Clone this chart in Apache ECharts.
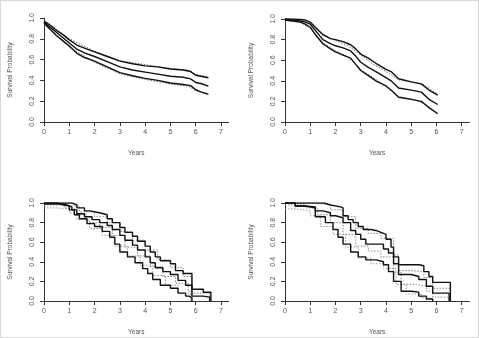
<!DOCTYPE html>
<html>
<head>
<meta charset="utf-8">
<script src="https://cdn.jsdelivr.net/npm/echarts@6/dist/echarts.min.js"></script>
<style>
  html, body { margin: 0; padding: 0; background: #fff; }
  #chart { width: 479px; height: 338px; box-sizing: border-box; border: 1px solid #d8d8d8; }
</style>
</head>
<body>
<div id="chart"></div>
<script>
// tick labels
var xTicks = [0, 1, 2, 3, 4, 5, 6, 7];

// panel 1 (top left)
var p1Time = [0, 0.25, 0.5, 0.75, 1, 1.3, 1.6, 2, 2.5, 3, 3.5, 4, 4.5, 5, 5.5, 5.8, 6, 6.2, 6.5];
var p1Upper = [0.97, 0.93, 0.88, 0.84, 0.79, 0.74, 0.71, 0.675, 0.63, 0.585, 0.56, 0.54, 0.53, 0.51, 0.50, 0.485, 0.45, 0.44, 0.425];
var p1Mid = [0.96, 0.91, 0.86, 0.81, 0.76, 0.70, 0.665, 0.63, 0.58, 0.53, 0.50, 0.48, 0.46, 0.44, 0.43, 0.415, 0.38, 0.37, 0.345];
var p1Lower = [0.95, 0.89, 0.83, 0.78, 0.73, 0.66, 0.62, 0.585, 0.53, 0.475, 0.445, 0.42, 0.40, 0.375, 0.36, 0.35, 0.31, 0.29, 0.265];
var p1DotTime = [0, 1, 2, 3, 4, 5, 5.7, 6, 6.5];
var p1DotUpper = [0.98, 0.80, 0.68, 0.59, 0.55, 0.515, 0.50, 0.46, 0.43];
var p1DotLower = [0.945, 0.72, 0.575, 0.465, 0.41, 0.365, 0.345, 0.30, 0.275];

// panel 2 (top right)
var p2Time = [0, 0.3, 0.6, 0.8, 1, 1.2, 1.5, 1.8, 2, 2.3, 2.6, 2.8, 3, 3.3, 3.6, 4, 4.2, 4.5, 5, 5.4, 5.7, 6.05];
var p2Upper = [1.0, 1.0, 0.995, 0.99, 0.97, 0.92, 0.85, 0.81, 0.80, 0.78, 0.75, 0.71, 0.66, 0.62, 0.57, 0.51, 0.49, 0.42, 0.39, 0.37, 0.31, 0.26];
var p2Mid = [1.0, 0.99, 0.98, 0.97, 0.95, 0.89, 0.80, 0.76, 0.74, 0.72, 0.69, 0.64, 0.58, 0.53, 0.49, 0.43, 0.40, 0.33, 0.31, 0.29, 0.22, 0.17];
var p2Lower = [0.99, 0.98, 0.97, 0.95, 0.92, 0.85, 0.76, 0.71, 0.68, 0.65, 0.62, 0.56, 0.50, 0.45, 0.40, 0.35, 0.31, 0.24, 0.22, 0.20, 0.14, 0.08];
var p2DotTime = [0, 0.6, 1, 1.5, 2, 2.5, 3, 3.5, 4, 4.5, 5, 5.5, 6.05];
var p2DotUpper = [1.0, 0.99, 0.96, 0.84, 0.79, 0.74, 0.65, 0.56, 0.49, 0.41, 0.39, 0.36, 0.27];
var p2DotLower = [0.99, 0.97, 0.91, 0.77, 0.69, 0.63, 0.51, 0.43, 0.345, 0.245, 0.225, 0.18, 0.085];

// panel 3 (bottom left), step curves
var p3UpperTime = [0, 1.1, 1.3, 1.6, 1.8, 2.2, 2.5, 2.7, 3.0, 3.2, 3.5, 3.7, 4.0, 4.2, 4.4, 4.6, 5.0, 5.2, 5.5, 5.85, 6.3, 6.6];
var p3Upper = [1.0, 0.98, 0.95, 0.92, 0.90, 0.88, 0.84, 0.80, 0.75, 0.70, 0.66, 0.61, 0.56, 0.50, 0.45, 0.41, 0.38, 0.31, 0.28, 0.12, 0.09, 0.0];
var p3MidTime = [0, 0.5, 0.9, 1.1, 1.3, 1.6, 1.9, 2.2, 2.5, 2.7, 3.0, 3.2, 3.5, 3.7, 4.0, 4.2, 4.4, 4.7, 5.0, 5.3, 5.6, 5.85, 6.3, 6.55];
var p3Mid = [1.0, 0.98, 0.96, 0.93, 0.89, 0.86, 0.83, 0.80, 0.77, 0.73, 0.67, 0.62, 0.57, 0.52, 0.45, 0.39, 0.34, 0.30, 0.27, 0.21, 0.16, 0.05, 0.04, 0.0];
var p3LowerTime = [0, 0.6, 1.0, 1.2, 1.4, 1.7, 2.0, 2.3, 2.6, 2.8, 3.0, 3.3, 3.6, 3.9, 4.1, 4.3, 4.6, 5.0, 5.3, 5.6, 5.75, 5.85];
var p3Lower = [0.99, 0.97, 0.93, 0.88, 0.84, 0.79, 0.76, 0.71, 0.65, 0.58, 0.50, 0.45, 0.39, 0.33, 0.28, 0.22, 0.16, 0.13, 0.08, 0.05, 0.03, 0.0];
var p3DotATime = [0, 1.0, 1.4, 2.0, 2.5, 3.0, 3.5, 4.0, 4.5, 5.0, 5.5, 5.85, 6.55];
var p3DotA = [1.0, 0.97, 0.91, 0.86, 0.80, 0.71, 0.62, 0.52, 0.42, 0.34, 0.25, 0.08, 0.0];
var p3DotBTime = [0, 0.8, 1.2, 1.7, 2.2, 2.7, 3.2, 3.7, 4.2, 4.7, 5.2, 5.7, 5.85];
var p3DotB = [0.98, 0.95, 0.88, 0.80, 0.75, 0.67, 0.55, 0.46, 0.35, 0.25, 0.18, 0.10, 0.0];
var p3DotCTime = [0, 0.5, 1.0, 1.3, 1.8, 2.3, 2.8, 3.3, 3.8, 4.3, 4.8, 5.3, 5.8];
var p3DotC = [0.95, 0.94, 0.90, 0.83, 0.74, 0.67, 0.56, 0.46, 0.36, 0.26, 0.16, 0.08, 0.0];

// panel 4 (bottom right), step curves
var p4UpperTime = [0, 1.55, 1.8, 2.2, 2.3, 2.5, 2.7, 2.9, 3.1, 3.4, 3.6, 3.8, 4.0, 4.2, 4.3, 4.5, 5.3, 5.5, 5.7, 5.85, 6.55];
var p4Upper = [1.0, 0.98, 0.96, 0.95, 0.87, 0.83, 0.80, 0.76, 0.73, 0.72, 0.70, 0.68, 0.63, 0.55, 0.45, 0.37, 0.36, 0.30, 0.25, 0.19, 0.0];
var p4MidTime = [0, 0.4, 0.8, 1.2, 1.5, 1.8, 2.0, 2.3, 2.6, 2.8, 3.0, 3.2, 3.9, 4.1, 4.3, 4.5, 5.0, 5.3, 5.6, 5.85, 6.5];
var p4Mid = [1.0, 0.97, 0.96, 0.92, 0.90, 0.87, 0.85, 0.80, 0.72, 0.68, 0.63, 0.58, 0.53, 0.49, 0.38, 0.27, 0.25, 0.22, 0.15, 0.08, 0.0];
var p4LowerTime = [0, 0.4, 0.8, 1.2, 1.6, 1.9, 2.1, 2.3, 2.6, 2.9, 3.2, 3.6, 3.9, 4.1, 4.3, 4.6, 5.0, 5.3, 5.6, 5.85];
var p4Lower = [1.0, 0.97, 0.95, 0.86, 0.80, 0.73, 0.65, 0.58, 0.50, 0.45, 0.42, 0.40, 0.37, 0.30, 0.20, 0.10, 0.09, 0.05, 0.02, 0.0];
var p4DotATime = [0, 1.2, 1.8, 2.3, 2.8, 3.3, 3.8, 4.3, 4.5, 5.0, 5.5, 5.85, 6.55];
var p4DotA = [1.0, 0.98, 0.93, 0.86, 0.74, 0.69, 0.64, 0.47, 0.31, 0.30, 0.24, 0.13, 0.0];
var p4DotBTime = [0, 0.8, 1.3, 1.8, 2.3, 2.8, 3.3, 3.8, 4.3, 4.6, 5.2, 5.6, 5.85, 6.5];
var p4DotB = [0.98, 0.95, 0.88, 0.80, 0.68, 0.56, 0.51, 0.45, 0.29, 0.17, 0.15, 0.10, 0.04, 0.0];
var p4DotCTime = [0, 0.4, 1.0, 1.4, 1.9, 2.4, 2.9, 3.4, 3.9, 4.4, 4.8, 5.4, 5.8];
var p4DotC = [0.94, 0.92, 0.87, 0.76, 0.68, 0.55, 0.44, 0.38, 0.33, 0.17, 0.07, 0.03, 0.0];

function zip(xs, ys) {
  var out = [];
  for (var i = 0; i < xs.length; i++) out.push([xs[i], ys[i]]);
  return out;
}

var font = 'Liberation Sans, Arial, sans-serif';
var axisColor = '#333';
var textColor = '#555';

var grids = [
  { left: 43, top: 17, width: 184.6, height: 104 },
  { left: 284, top: 18, width: 184.3, height: 103 },
  { left: 43, top: 202, width: 184.6, height: 101 },
  { left: 284, top: 202, width: 184.3, height: 101 }
];

var xAxes = [], yAxes = [];
for (var g = 0; g < 4; g++) {
  xAxes.push({
    type: 'value', gridIndex: g, min: 0, max: 7.3,
    name: 'Years', nameLocation: 'middle', nameGap: 28,
    nameTextStyle: { fontSize: 6.5, color: textColor, fontFamily: font },
    axisLine: { show: true, onZero: false, lineStyle: { color: axisColor, width: 1 } },
    axisTick: { show: true, length: 4, customValues: xTicks, lineStyle: { color: axisColor } },
    axisLabel: { customValues: xTicks, fontSize: 7, color: textColor, margin: 7, fontFamily: font },
    splitLine: { show: false }
  });
  yAxes.push({
    type: 'value', gridIndex: g, min: 0, max: 1, interval: 0.2,
    name: 'Survival Probability', nameLocation: 'middle', nameGap: 30,
    nameTextStyle: { fontSize: 6.5, color: textColor, fontFamily: font },
    axisLine: { show: true, lineStyle: { color: axisColor, width: 1 } },
    axisTick: { show: true, length: 4, lineStyle: { color: axisColor } },
    axisLabel: {
      rotate: 90, fontSize: 7, color: textColor, margin: 8, fontFamily: font,
      formatter: function (v) { return v.toFixed(1); }
    },
    splitLine: { show: false }
  });
}

function solid(g, data, step) {
  return {
    type: 'line', xAxisIndex: g, yAxisIndex: g, data: data, step: step || false,
    showSymbol: false, silent: true,
    lineStyle: { color: '#111', width: 1.4 }
  };
}
function dotted(g, data, step, color) {
  return {
    type: 'line', xAxisIndex: g, yAxisIndex: g, data: data, step: step || false,
    showSymbol: false, silent: true,
    lineStyle: { color: color || '#666', width: 1, type: [1.5, 1.5] }
  };
}

var series = [
  dotted(0, zip(p1DotTime, p1DotUpper)),
  dotted(0, zip(p1DotTime, p1DotLower)),
  solid(0, zip(p1Time, p1Upper)),
  solid(0, zip(p1Time, p1Mid)),
  solid(0, zip(p1Time, p1Lower)),

  dotted(1, zip(p2DotTime, p2DotUpper)),
  dotted(1, zip(p2DotTime, p2DotLower)),
  solid(1, zip(p2Time, p2Upper)),
  solid(1, zip(p2Time, p2Mid)),
  solid(1, zip(p2Time, p2Lower)),

  dotted(2, zip(p3DotATime, p3DotA), 'end', '#888'),
  dotted(2, zip(p3DotBTime, p3DotB), 'end', '#888'),
  dotted(2, zip(p3DotCTime, p3DotC), 'end', '#999'),
  solid(2, zip(p3UpperTime, p3Upper), 'end'),
  solid(2, zip(p3MidTime, p3Mid), 'end'),
  solid(2, zip(p3LowerTime, p3Lower), 'end'),

  dotted(3, zip(p4DotATime, p4DotA), 'end', '#888'),
  dotted(3, zip(p4DotBTime, p4DotB), 'end', '#888'),
  dotted(3, zip(p4DotCTime, p4DotC), 'end', '#999'),
  solid(3, zip(p4UpperTime, p4Upper), 'end'),
  solid(3, zip(p4MidTime, p4Mid), 'end'),
  solid(3, zip(p4LowerTime, p4Lower), 'end')
];

var chart = echarts.init(document.getElementById('chart'));
chart.setOption({
  animation: false,
  backgroundColor: '#fff',
  grid: grids,
  xAxis: xAxes,
  yAxis: yAxes,
  series: series
});
</script>
</body>
</html>
